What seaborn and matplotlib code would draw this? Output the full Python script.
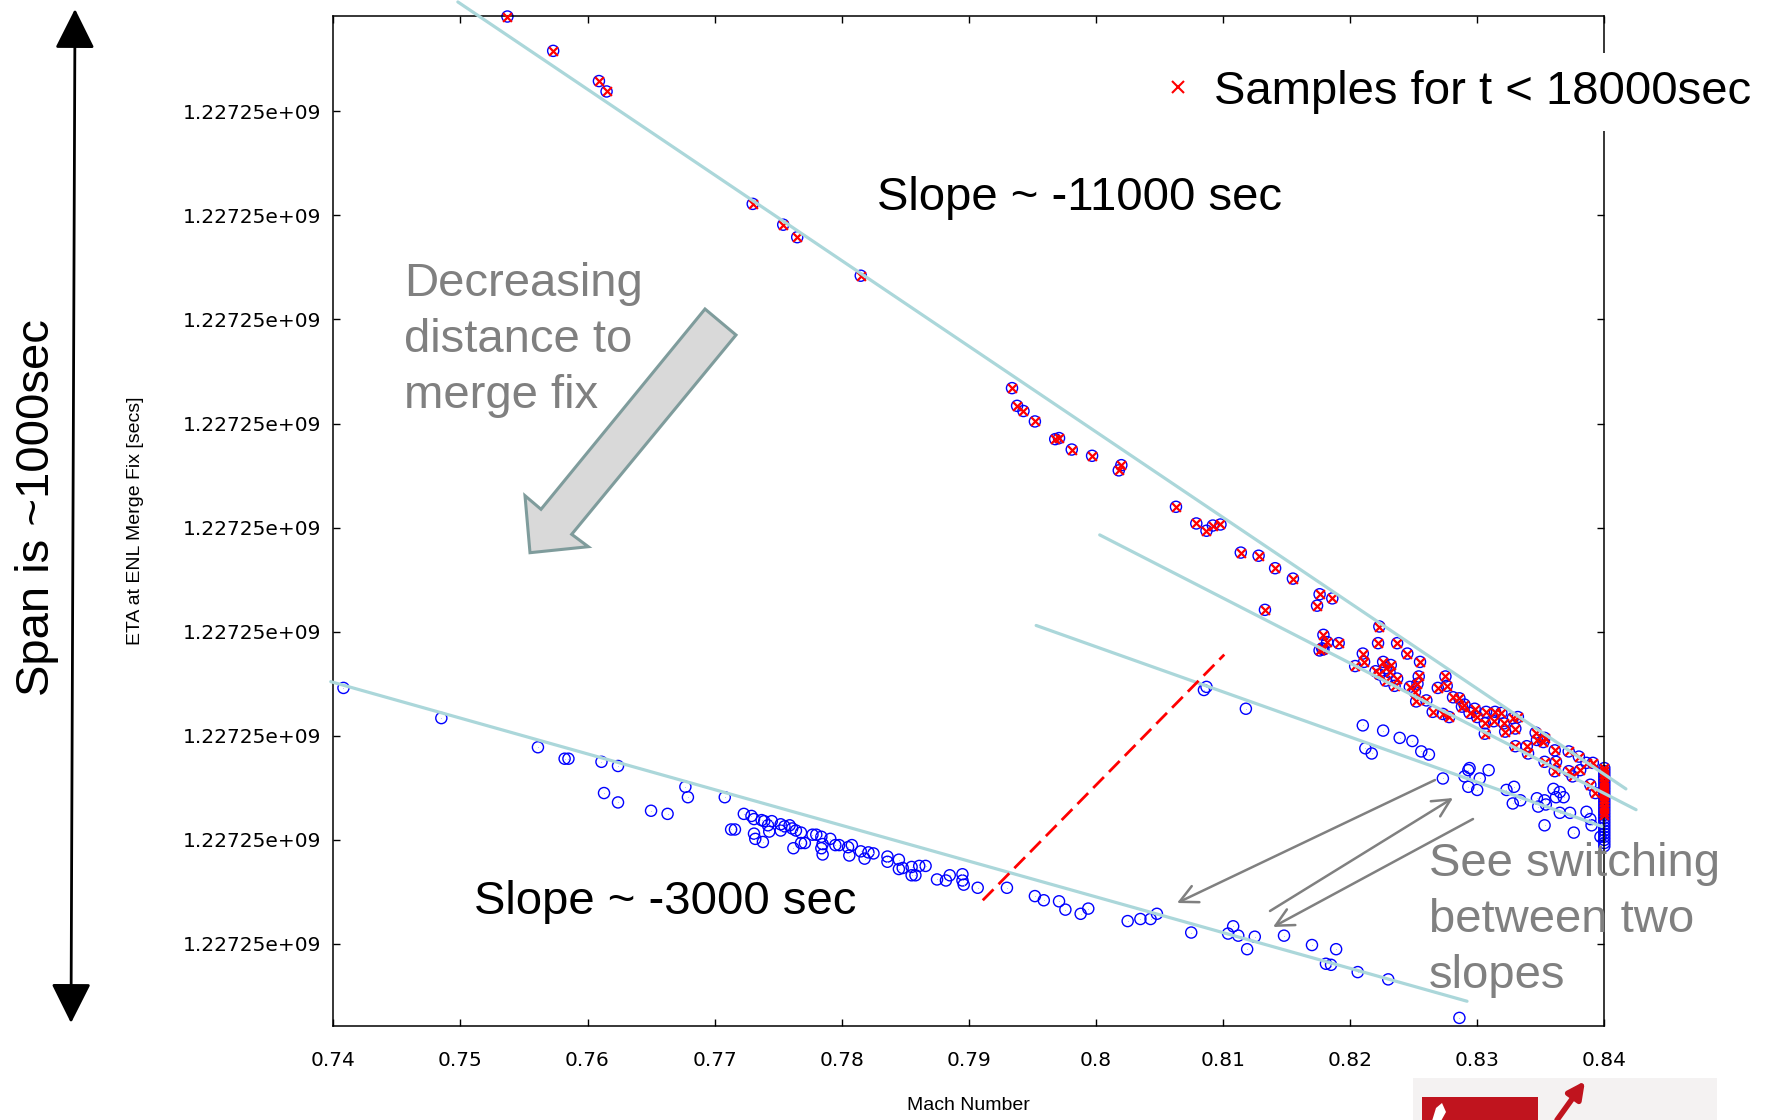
import numpy as np
import pandas as pd
import seaborn as sns
from matplotlib import pyplot as plt
from matplotlib.patches import Polygon, Rectangle
from matplotlib.lines import Line2D
from matplotlib.ticker import FormatStrFormatter


ETA_BASE = 1227249600  # secs, the lowest labelled tick

# samples taken for t < 18000 sec (steep branch), ETA as secs above ETA_BASE
EARLY_MACH = [
    0.7537, 0.7573, 0.7609, 0.7615, 0.7730, 0.7754, 0.7765, 0.7815, 0.7934, 0.7938,
    0.7943, 0.7952, 0.7968, 0.7971, 0.7981, 0.7997, 0.8020, 0.8018, 0.8063, 0.8079,
    0.8087, 0.8092, 0.8098, 0.8114, 0.8128, 0.8141, 0.8155, 0.8176, 0.8186, 0.8174,
    0.8133, 0.8223, 0.8222, 0.8237, 0.8245, 0.8255, 0.8179, 0.8191, 0.8182, 0.8176,
    0.8178, 0.8179, 0.8210, 0.8211, 0.8204, 0.8226, 0.8232, 0.8228, 0.8220, 0.8223,
    0.8231, 0.8237, 0.8235, 0.8228, 0.8254, 0.8253, 0.8247, 0.8251, 0.8252, 0.8260,
    0.8269, 0.8275, 0.8276, 0.8265, 0.8273, 0.8278, 0.8281, 0.8286, 0.8290, 0.8288,
    0.8298, 0.8294, 0.8300, 0.8307, 0.8314, 0.8319, 0.8306, 0.8313, 0.8321, 0.8328,
    0.8332, 0.8322, 0.8306, 0.8330, 0.8346, 0.8347, 0.8353, 0.8330, 0.8339, 0.8340,
    0.8352, 0.8353, 0.8361, 0.8362, 0.8361, 0.8372, 0.8380, 0.8372, 0.8375, 0.8386,
    0.8391, 0.8381, 0.8389, 0.8393,
]
EARLY_ETA = [
    891, 858, 829, 819, 711, 691, 679, 642, 534, 517,
    512, 502, 485, 486, 475, 469, 460, 455, 420, 404,
    397, 402, 403, 376, 373, 361, 351, 336, 332, 325,
    321, 305, 289, 289, 279, 271, 297, 289, 290, 282,
    284, 283, 279, 271, 267, 271, 268, 265, 262, 259,
    261, 255, 248, 253, 257, 250, 247, 242, 233, 234,
    246, 257, 248, 223, 221, 218, 237, 236, 230, 228,
    226, 222, 218, 223, 223, 222, 212, 214, 212, 217,
    218, 204, 202, 207, 203, 196, 198, 190, 190, 183,
    194, 175, 186, 175, 166, 185, 180, 166, 161, 174,
    174, 167, 153, 145,
]

# later samples (shallow branches)
LATE_MACH = [
    0.7408, 0.7485, 0.7561, 0.7582, 0.7585, 0.7611, 0.7624, 0.7613, 0.7624, 0.7650,
    0.7663, 0.7677, 0.7679, 0.7708, 0.7723, 0.7729, 0.7731, 0.7737, 0.7739, 0.7745,
    0.7742, 0.7752, 0.7755, 0.7759, 0.7761, 0.7752, 0.7764, 0.7768, 0.7713, 0.7716,
    0.7731, 0.7732, 0.7738, 0.7743, 0.7777, 0.7780, 0.7784, 0.7791, 0.7785, 0.7784,
    0.7785, 0.7768, 0.7771, 0.7762, 0.7795, 0.7798, 0.7805, 0.7808, 0.7806, 0.7815,
    0.7818, 0.7821, 0.7825, 0.7836, 0.7836, 0.7845, 0.7845, 0.7848, 0.7855, 0.7855,
    0.7858, 0.7861, 0.7866, 0.7875, 0.7882, 0.7885, 0.7895, 0.7895, 0.7896, 0.7907,
    0.8085, 0.8087, 0.8118, 0.8210, 0.8226, 0.8239, 0.8249, 0.8212, 0.8217, 0.8256,
    0.8262, 0.8273, 0.7930, 0.7952, 0.7959, 0.7971, 0.7976, 0.7988, 0.7994, 0.8025,
    0.8035, 0.8043, 0.8048, 0.8075, 0.8104, 0.8108, 0.8112, 0.8119, 0.8125, 0.8148,
    0.8170, 0.8189, 0.8181, 0.8185, 0.8206, 0.8230, 0.8286, 0.8294, 0.8293, 0.8309,
    0.8302, 0.8290, 0.8293, 0.8300, 0.8323, 0.8329, 0.8328, 0.8334, 0.8347, 0.8353,
    0.8354, 0.8348, 0.8360, 0.8365, 0.8362, 0.8368, 0.8365, 0.8373, 0.8386, 0.8389,
    0.8390, 0.8353, 0.8376, 0.8397,
]
LATE_ETA = [
    246, 217, 189, 178, 178, 175, 171, 145, 136, 128,
    125, 151, 141, 141, 125, 123, 120, 119, 118, 118,
    114, 115, 113, 114, 111, 109, 109, 107, 110, 110,
    106, 101, 98, 108, 105, 105, 103, 101, 96, 92,
    86, 97, 97, 92, 95, 95, 93, 95, 85, 89,
    82, 88, 87, 84, 79, 81, 72, 73, 74, 66,
    66, 75, 75, 62, 61, 66, 67, 61, 57, 54,
    244, 247, 226, 210, 205, 198, 195, 188, 183, 185,
    182, 159, 54, 46, 42, 41, 33, 29, 34, 22,
    24, 24, 29, 11, 10, 17, 8, -5, 7, 8,
    -1, -5, -19, -20, -27, -34, -71, 169, 167, 167,
    159, 161, 151, 148, 148, 151, 135, 138, 140, 138,
    134, 132, 149, 146, 141, 141, 126, 126, 127, 120,
    114, 114, 107, 103,
]

# readings piled up on the Mach 0.84 edge
EDGE_MACH = 0.84
EDGE_EARLY_ETA = [124, 127, 130, 133, 136, 139, 142, 145, 148, 151, 154, 157, 160, 163, 166, 169]
EDGE_LATE_ETA = [94, 97, 100, 103, 106, 109, 112, 115, 118, 121]

# hand-drawn trend lines (end points)
FIT_MACH = [(0.7498, 0.8417), (0.8003, 0.8425), (0.7953, 0.8398), (0.7398, 0.8292)]
FIT_ETA = [(905, 149), (393, 129), (306, 113), (252, -55)]
SPLIT_MACH = [0.7911, 0.8101]
SPLIT_ETA = [42, 278]

X_TICKS = [0.74, 0.75, 0.76, 0.77, 0.78, 0.79, 0.80, 0.81, 0.82, 0.83, 0.84]
Y_TICK_OFFSETS = [0, 100, 200, 300, 400, 500, 600, 700, 800]

W, H = 1781, 1120


def fig_xy(px, py):
    # figure pixel (from top-left) -> figure fraction
    return px / W, 1 - py / H


def plot_eta(fig_name):
    sns.set_style('ticks')
    plt.rcParams['font.family'] = ['Liberation Sans', 'DejaVu Sans']
    plt.rcParams['axes.linewidth'] = 1.1
    plt.rcParams['text.color'] = 'black'
    plt.rcParams['axes.labelcolor'] = 'black'

    fig = plt.figure(figsize=(W / 100, H / 100), dpi=100)
    fig.patch.set_facecolor('white')
    ax = fig.add_axes([333.3 / W, 1 - 1025.7 / H, 1271 / W, 1009.7 / H])

    all_df = pd.DataFrame({
        'mach': EARLY_MACH + LATE_MACH + [EDGE_MACH] * (len(EDGE_EARLY_ETA) + len(EDGE_LATE_ETA)),
        'eta': [ETA_BASE + v for v in EARLY_ETA + LATE_ETA + EDGE_EARLY_ETA + EDGE_LATE_ETA],
    })
    early_df = pd.DataFrame({
        'mach': EARLY_MACH + [EDGE_MACH] * len(EDGE_EARLY_ETA),
        'eta': [ETA_BASE + v for v in EARLY_ETA + EDGE_EARLY_ETA],
    })

    sns.scatterplot(data=all_df, x='mach', y='eta', marker='o', s=64, facecolor='none',
                    edgecolor='blue', linewidth=1.0, ax=ax, zorder=2, clip_on=False)
    sns.scatterplot(data=all_df, x='mach', y='eta', marker='.', s=1.5, color='blue',
                    linewidth=0, ax=ax, zorder=2, clip_on=False)
    sns.scatterplot(data=early_df, x='mach', y='eta', marker='x', s=40, color='red',
                    linewidth=1.6, ax=ax, zorder=3, clip_on=False)

    for mx, ey in zip(FIT_MACH, FIT_ETA):
        sns.lineplot(x=list(mx), y=[ETA_BASE + v for v in ey], color='#abd7da', lw=2.3,
                     estimator=None, sort=False, ax=ax, zorder=4, clip_on=False)
    sns.lineplot(x=SPLIT_MACH, y=[ETA_BASE + v for v in SPLIT_ETA], color='red', lw=2,
                 linestyle=(0, (5.5, 2.6)), estimator=None, sort=False, ax=ax, zorder=4)

    ax.set_xlim(0.74, 0.84)
    ax.set_ylim(ETA_BASE - 78.5, ETA_BASE + 891.5)
    ax.set_xticks(X_TICKS)
    ax.set_yticks([ETA_BASE + v for v in Y_TICK_OFFSETS])
    ax.xaxis.set_major_formatter(FormatStrFormatter('%g'))
    ax.yaxis.set_major_formatter(FormatStrFormatter('%g'))
    ax.tick_params(direction='in', top=True, right=True, length=5, width=1,
                   labelsize=14.5, colors='black')
    ax.tick_params(axis='x', pad=18)
    ax.tick_params(axis='y', pad=9)
    for lab in ax.get_xticklabels() + ax.get_yticklabels():
        lab.set_fontfamily('DejaVu Sans')
    for sp in ax.spines.values():
        sp.set_visible(True)
        sp.set_color('black')

    ax.set_xlabel('Mach Number', fontsize=14, color='black')
    ax.set_ylabel('ETA at ENL Merge Fix [secs]', fontsize=14, color='black')
    ax.xaxis.set_label_coords(0.5, -0.0706)
    ax.yaxis.set_label_coords(-0.149, 0.5)

    handle = Line2D([], [], marker='x', color='red', linestyle='none', markersize=9, mew=1.5)
    leg = ax.legend([handle], ['Samples for t < 18000sec'], loc='center left',
                    bbox_to_anchor=fig_xy(1150, 92), bbox_transform=fig.transFigure,
                    fontsize=34, handlelength=0.5, handletextpad=0.5, borderpad=0.35,
                    borderaxespad=0, frameon=True, facecolor='white', edgecolor='none',
                    framealpha=1, fancybox=False)
    for t in leg.get_texts():
        t.set_color('black')

    # slide annotations (va='baseline' on multi-line text anchors the last line)
    big = dict(fontsize=34, family=['Liberation Sans', 'DejaVu Sans'])
    fig.text(*fig_xy(877, 210), 'Slope ~ -11000 sec', color='black', va='baseline', **big)
    fig.text(*fig_xy(474, 914), 'Slope ~ -3000 sec', color='black', va='baseline', **big)
    fig.text(*fig_xy(404, 408), 'Decreasing\ndistance to\nmerge fix', color='#808080',
             va='baseline', linespacing=1.35, **big)
    fig.text(*fig_xy(1429, 988), 'See switching\nbetween two\nslopes', color='#808080',
             va='baseline', linespacing=1.35, **big)
    fig.text(*fig_xy(49, 508), 'Span is ~1000sec', color='black', rotation=90,
             rotation_mode='anchor', ha='center', va='baseline', **big)

    block = [(705, 309), (736, 335), (571.7, 534.3), (588.3, 546.7), (530, 552.7),
             (525, 495.7), (541, 509.3)]
    fig.patches.append(Polygon([fig_xy(px, py) for px, py in block], closed=True,
                               transform=fig.transFigure, facecolor='#d9d9d9',
                               edgecolor='#7f9c9c', lw=2.2, zorder=5))

    arrows = [((1435, 780), (1177, 903)), ((1270, 911), (1453, 798)),
              ((1473, 819), (1273, 927))]
    for (x0, y0), (x1, y1) in arrows:
        fig.add_artist(plt.Annotation('', xy=fig_xy(x1, y1), xytext=fig_xy(x0, y0),
                                      xycoords='figure fraction', textcoords='figure fraction',
                                      arrowprops=dict(arrowstyle='->', color='#808080', lw=1.8,
                                                      mutation_scale=32, shrinkA=0, shrinkB=0)))

    fig.add_artist(plt.Annotation('', xy=fig_xy(71, 1023), xytext=fig_xy(75, 9),
                                  xycoords='figure fraction', textcoords='figure fraction',
                                  arrowprops=dict(arrowstyle='<|-|>', color='black', lw=2,
                                                  mutation_scale=62, shrinkA=0, shrinkB=0)))

    # logo strip in the corner of the slide (only its top edge shows)
    x0, y0 = fig_xy(1413, 1120)
    fig.patches.append(Rectangle((x0, y0), 304 / W, 42 / H, transform=fig.transFigure,
                                 facecolor='#f4f2f2', edgecolor='none', zorder=1))
    m_shape = [(1422, 1121), (1422, 1097), (1538, 1097), (1538, 1121)]
    fig.patches.append(Polygon([fig_xy(px, py) for px, py in m_shape], closed=True,
                               transform=fig.transFigure, facecolor='#c0141e',
                               edgecolor='none', zorder=2))
    notch = [(1432, 1121), (1436, 1108), (1442, 1103), (1446, 1112), (1441, 1121)]
    fig.patches.append(Polygon([fig_xy(px, py) for px, py in notch], closed=True,
                               transform=fig.transFigure, facecolor='white',
                               edgecolor='none', zorder=3))
    fig.add_artist(plt.Annotation('', xy=fig_xy(1585, 1081), xytext=fig_xy(1557, 1120),
                                  xycoords='figure fraction', textcoords='figure fraction',
                                  arrowprops=dict(arrowstyle='-|>', color='#c0141e', lw=4,
                                                  mutation_scale=25, shrinkA=0, shrinkB=0)))

    fig.savefig(fig_name, dpi=100, facecolor='white')


if __name__ == '__main__':
    plot_eta('out.png')
